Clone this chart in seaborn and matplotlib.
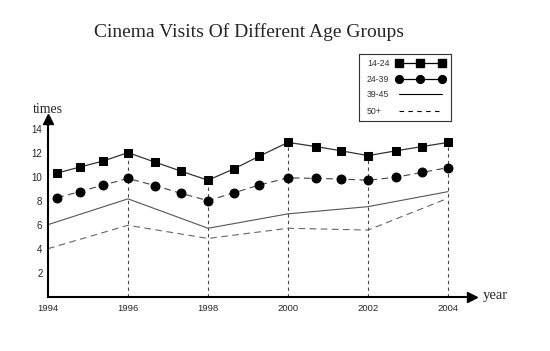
import matplotlib
matplotlib.use("Agg")
import matplotlib.pyplot as plt
import seaborn as sns

# values
years = [1994, 1996, 1998, 2000, 2002, 2004]
marker_years = [1994.23, 1994.8, 1995.38, 1996, 1996.68, 1997.33, 1998,
                1998.65, 1999.28, 2000, 2000.7, 2001.33, 2002,
                2002.7, 2003.35, 2004]
group_14_24 = [10.3, 10.8, 11.3, 12.0, 11.2, 10.45, 9.7,
               10.65, 11.7, 12.85, 12.5, 12.15, 11.75,
               12.15, 12.5, 12.85]
group_24_39 = [8.25, 8.75, 9.3, 9.85, 9.25, 8.6, 8.0,
               8.65, 9.3, 9.9, 9.85, 9.8, 9.7,
               9.95, 10.35, 10.75]
group_39_45 = [6.0, 8.15, 5.7, 6.9, 7.5, 8.75]
group_50_plus = [4.0, 5.95, 4.85, 5.7, 5.55, 8.2]
grid_tops = [12.0, 9.7, 12.85, 11.75, 12.85]
legend_labels = ["14-24", "24-39", "39-45", "50+"]
y_ticks = [2, 4, 6, 8, 10, 12, 14]

sns.set_style("white")
plt.rcParams['font.family'] = ['Liberation Sans', 'DejaVu Sans']

fig = plt.figure(figsize=(5.5, 3.51), dpi=100)
ax = fig.add_axes([0.0873, 0.1547, 0.7709, 0.5063])

# dashed guides from the axis up to the top series
for yr, top in zip(years[1:], grid_tops):
    ax.plot([yr, yr], [0, top], color="#444444", lw=0.8, ls=(0, (3, 3)), zorder=1)

sns.lineplot(x=marker_years, y=group_14_24, ax=ax, color="#333333", lw=0.9,
             marker="s", markersize=6.2, markerfacecolor="black",
             markeredgecolor="black", zorder=3)
sns.lineplot(x=marker_years, y=group_24_39, ax=ax, color="#444444", lw=0.8,
             linestyle=(0, (6, 4)), marker="o", markersize=6.4,
             markerfacecolor="black", markeredgecolor="black", zorder=3)
sns.lineplot(x=years, y=group_39_45, ax=ax, color="#555555", lw=0.8, zorder=2)
sns.lineplot(x=years, y=group_50_plus, ax=ax, color="#666666", lw=0.8,
             linestyle=(0, (6, 4)), zorder=2)

ax.set_xlim(1994, 2004.6)
ax.set_ylim(0, 14.8)
ax.set_xticks(years)
ax.set_xticklabels([str(y) for y in years])
ax.set_yticks(y_ticks)
ax.tick_params(axis="x", length=0, pad=5, labelsize=6.8)
ax.tick_params(axis="y", length=3, width=0.8, direction="out", pad=1, labelsize=7)
for side in ["top", "right"]:
    ax.spines[side].set_visible(False)
for side in ["left", "bottom"]:
    ax.spines[side].set_color("black")
    ax.spines[side].set_linewidth(1.5)
ax.set_xlabel("")
ax.set_ylabel("")

# arrow heads
ax.plot(1, 0, ">", color="black", markersize=7, transform=ax.transAxes, clip_on=False)
ax.plot(0, 1, "^", color="black", markersize=7, transform=ax.transAxes, clip_on=False)

serif = ['Liberation Serif', 'DejaVu Serif']
fig.text(0.453, 0.91, "Cinema Visits Of Different Age Groups", family=serif,
         fontsize=14, ha="center", va="center")
fig.text(0.087, 0.687, "times", family=serif, fontsize=10, ha="center", va="center")
fig.text(0.90, 0.157, "year", family=serif, fontsize=10.5, ha="center", va="center")

# legend drawn in its own small box
lax = fig.add_axes([359 / 550, 1 - 121 / 351, 92 / 550, 67 / 351])
lax.set_xlim(0, 1)
lax.set_ylim(0, 1)
lax.set_xticks([])
lax.set_yticks([])
for s in lax.spines.values():
    s.set_color("#333333")
    s.set_linewidth(0.8)
rows = [0.861, 0.622, 0.398, 0.149]
hx = [0.435, 0.668, 0.902]
styles = [
    dict(color="black", lw=0.9, marker="s", markersize=5.2),
    dict(color="black", lw=0.9, marker="o", markersize=5.6),
    dict(color="black", lw=0.8),
    dict(color="black", lw=0.8, ls=(0, (4, 4))),
]
for label, yrow, st in zip(legend_labels, rows, styles):
    lax.text(0.087, yrow, label, fontsize=6.3, ha="left", va="center", color="#333333")
    lax.plot(hx, [yrow] * 3, **st)

fig.savefig("out.png", dpi=100)
